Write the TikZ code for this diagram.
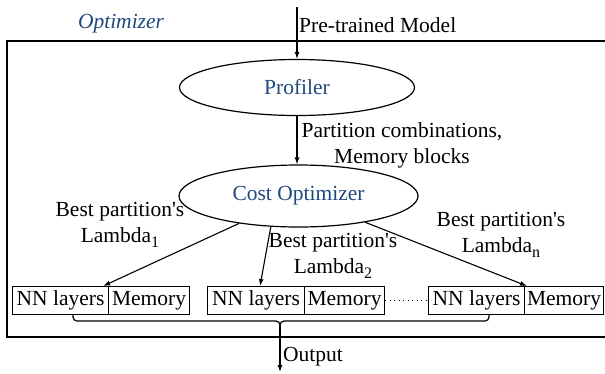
\documentclass[tikz,border=0pt]{standalone}
\usepackage{fontspec}
\setmainfont{Liberation Serif}
\usetikzlibrary{arrows.meta,shapes.geometric,calc}
\definecolor{dblue}{RGB}{31,73,125}
\newcommand{\mysub}[1]{\raisebox{-5pt}{\fontsize{16}{16}\selectfont #1}}
\newcommand{\bestp}{Best partition\textquotesingle s}
\begin{document}
\begin{tikzpicture}[x=1pt,y=-1pt,
  every node/.style={font=\fontsize{21.5}{26}\selectfont},
  ln/.style={line width=1.2pt},
  arr/.style={line width=1.1pt,-{Latex[length=7pt,width=5pt]}},
  ell/.style={ellipse,draw,line width=1.2pt,inner sep=0pt,text=dblue},
  cell/.style={draw,line width=1.2pt,inner sep=0pt,minimum height=28pt,anchor=north west},
  lbl/.style={align=center,inner sep=0pt}]
\useasboundingbox (0,0) rectangle (605,373);
% outer frame
\draw[ln] (612,41) -- (7,41) -- (7,337) -- (612,337);
\node[text=dblue,font=\fontsize{21.5}{26}\selectfont\itshape] (opt) at (121,24) {Optimizer};
% ellipses
\node[ell,minimum width=235pt,minimum height=56pt] (prof) at (297,87.5) {Profiler};
\node[ell,minimum width=239pt,minimum height=62pt] (cost) at (298.5,196) {Cost Optimizer};
% input
\coordinate (in) at (297,7);
\draw[arr] (in) -- (prof.north);
\node[anchor=west,inner sep=1pt] (pre) at (298,25) {Pre-trained Model};
% profiler -> cost
\draw[arr] (prof.south) -- (prof.south |- cost.north);
\node[lbl] (pc) at (402,145.5) {Partition combinations,\\Memory blocks};
% blocks
\node[cell,minimum width=96pt] (nn1) at (12,286) {NN layers};
\node[cell,minimum width=81pt] (mem1) at (108,286) {Memory};
\node[cell,minimum width=97pt] (nn2) at (207,286) {NN layers};
\node[cell,minimum width=80pt] (mem2) at (304,286) {Memory};
\node[cell,minimum width=96pt] (nn3) at (428,286) {NN layers};
\node[cell,minimum width=79pt] (mem3) at (524,286) {Memory};
\draw[line width=1pt,dash pattern=on 1pt off 3.5pt] (mem2.east) -- (nn3.west);
% cost -> blocks
\draw[arr] (cost) -- ($(nn1.north east)+(-6,0)$);
\draw[arr] (cost.228) -- ($(nn2.north west)+(53,0)$);
\draw[arr] (cost) -- ($(mem3.north west)+(3,0)$);
\node[lbl] (l1) at (120,225) {\bestp\\Lambda\mysub{1}};
\node[lbl] (l2) at (333,256) {\bestp\\Lambda\mysub{2}};
\node[lbl] (l3) at (501,235) {\bestp\\Lambda\mysub{n}};
% brace
\draw[ln,rounded corners=4pt] (73,314) -- (73,321) -- (280,321) -- (280,327);
\draw[ln,rounded corners=4pt] (489,314) -- (489,321) -- (280,321) -- (280,327);
\coordinate (brtip) at (280,326);
\coordinate (out) at (280,372);
\draw[arr] (brtip) -- (out);
\node[anchor=west,inner sep=1pt] (outl) at (282,357) {Output};
\end{tikzpicture}
\end{document}
